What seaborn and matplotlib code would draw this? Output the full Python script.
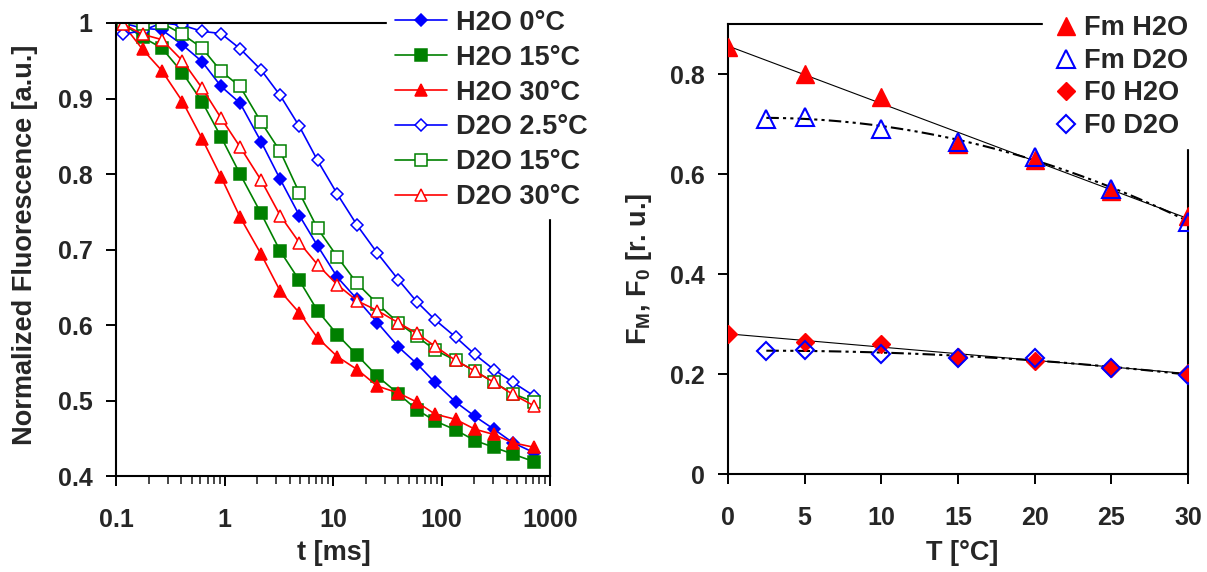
import numpy as np
import matplotlib
matplotlib.use("Agg")
import matplotlib.pyplot as plt
from matplotlib.ticker import FixedLocator, LogLocator, NullFormatter, FuncFormatter
import seaborn as sns

# ---- left panel: fluorescence decay ----
t_ms = [0.115, 0.176, 0.264, 0.41, 0.62, 0.93, 1.39, 2.17, 3.26, 4.9, 7.2,
        11.0, 16.7, 25.7, 40, 59, 87, 135, 203, 304, 456, 712]
h2o_0 = [1.0, 0.993, 0.991, 0.971, 0.949, 0.916, 0.894, 0.843, 0.793, 0.745, 0.705,
         0.663, 0.634, 0.603, 0.571, 0.549, 0.524, 0.498, 0.479, 0.462, 0.444, 0.431]
h2o_15 = [0.999, 0.981, 0.967, 0.934, 0.896, 0.849, 0.800, 0.748, 0.698, 0.659, 0.619,
          0.587, 0.560, 0.532, 0.509, 0.488, 0.473, 0.461, 0.447, 0.438, 0.429, 0.419]
h2o_30 = [0.999, 0.965, 0.937, 0.896, 0.847, 0.796, 0.743, 0.694, 0.645, 0.616, 0.583,
          0.558, 0.541, 0.519, 0.510, 0.498, 0.482, 0.475, 0.462, 0.455, 0.444, 0.438]
d2o_2_5 = [0.985, 0.990, 1.0, 0.997, 0.989, 0.986, 0.966, 0.938, 0.904, 0.863, 0.818,
           0.773, 0.732, 0.695, 0.660, 0.631, 0.607, 0.584, 0.561, 0.541, 0.524, 0.506]
d2o_15 = [1.0, 0.999, 1.0, 0.985, 0.967, 0.936, 0.916, 0.869, 0.830, 0.775, 0.728,
          0.690, 0.655, 0.628, 0.603, 0.585, 0.567, 0.553, 0.539, 0.524, 0.509, 0.498]
d2o_30 = [0.999, 0.985, 0.978, 0.950, 0.914, 0.874, 0.836, 0.792, 0.745, 0.709, 0.680,
          0.653, 0.632, 0.619, 0.603, 0.589, 0.572, 0.553, 0.539, 0.524, 0.508, 0.493]

decay_labels = ["H2O 0°C", "H2O 15°C", "H2O 30°C", "D2O 2.5°C", "D2O 15°C", "D2O 30°C"]
decay_values = [h2o_0, h2o_15, h2o_30, d2o_2_5, d2o_15, d2o_30]

# ---- right panel: Fm and F0 vs temperature ----
temp_h2o = [0, 5, 10, 15, 20, 25, 30]
temp_d2o = [2.5, 5, 10, 15, 20, 25, 30]
fm_h2o = [0.855, 0.801, 0.755, 0.661, 0.629, 0.567, 0.516]
fm_d2o = [0.711, 0.715, 0.691, 0.665, 0.635, 0.571, 0.505]
f0_h2o = [0.281, 0.265, 0.260, 0.235, 0.227, 0.213, 0.203]
f0_d2o = [0.246, 0.249, 0.240, 0.233, 0.233, 0.213, 0.198]

# styles
BLUE, GREEN, RED = "#0000FF", "#008000", "#FF0000"
decay_styles = [
    dict(color=BLUE, marker="D", ms=6.0, mfc=BLUE),
    dict(color=GREEN, marker="s", ms=8.0, mfc=GREEN),
    dict(color=RED, marker="^", ms=8.5, mfc=RED),
    dict(color=BLUE, marker="D", ms=6.0, mfc="white"),
    dict(color=GREEN, marker="s", ms=8.0, mfc="white"),
    dict(color=RED, marker="^", ms=8.5, mfc="white"),
]

sns.set_style("ticks")
plt.rcParams["font.family"] = ["Liberation Sans", "DejaVu Sans"]
plt.rcParams["font.weight"] = "bold"
plt.rcParams["axes.labelweight"] = "bold"
plt.rcParams["mathtext.fontset"] = "custom"
plt.rcParams["mathtext.rm"] = "Liberation Sans:bold"
plt.rcParams["mathtext.it"] = "Liberation Sans:bold"
plt.rcParams["mathtext.bf"] = "Liberation Sans:bold"
plt.rcParams["mathtext.default"] = "rm"

W, H = 1207, 572
fig = plt.figure(figsize=(W / 100, H / 100), dpi=100)
ax1 = fig.add_axes([116 / W, 1 - 476 / H, 434 / W, 453 / H])
ax2 = fig.add_axes([728 / W, 1 - 474 / H, 460 / W, 450 / H])

for lab, vals, st in zip(decay_labels, decay_values, decay_styles):
    sns.lineplot(x=t_ms, y=vals, ax=ax1, label=lab, lw=1.2, mec=st["color"],
                 mew=1.1, **st)

ax1.set_xscale("log")
ax1.set_xlim(0.1, 1000)
ax1.set_ylim(0.4, 1.0)
ax1.xaxis.set_major_locator(FixedLocator([0.1, 1, 10, 100, 1000]))
ax1.xaxis.set_major_formatter(FuncFormatter(lambda v, p: f"{v:g}"))
ax1.xaxis.set_minor_locator(LogLocator(base=10, subs=np.arange(2, 10)))
ax1.xaxis.set_minor_formatter(NullFormatter())
ax1.yaxis.set_major_locator(FixedLocator([0.4, 0.5, 0.6, 0.7, 0.8, 0.9, 1.0]))
ax1.yaxis.set_major_formatter(FuncFormatter(lambda v, p: f"{v:g}"))
ax1.set_xlabel("t [ms]", fontsize=19.5, va="center")
ax1.set_ylabel("Normalized Fluorescence [a.u.]", fontsize=19.5, va="center")
ax1.xaxis.set_label_coords(0.501, -0.17)
ax1.yaxis.set_label_coords(-0.21, 0.51)
ax1.legend(loc="upper left", bbox_to_anchor=(387 / W, 1 - 1.5 / H),
           bbox_transform=fig.transFigure, borderaxespad=0, frameon=True,
           fancybox=False, facecolor="white", edgecolor="white", framealpha=1,
           fontsize=19.5, handlelength=1.93, handletextpad=0.3, borderpad=0.3,
           labelspacing=0.33)

# trend lines
grid_h2o = np.linspace(0, 30, 100)
grid_d2o = np.linspace(2.5, 30, 100)
dashdotdot = (0, (6, 2, 1.5, 2, 1.5, 2))
sns.lineplot(x=grid_h2o, y=np.polyval(np.polyfit(temp_h2o, fm_h2o, 1), grid_h2o),
             ax=ax2, color="black", lw=0.8)
sns.lineplot(x=grid_h2o, y=np.polyval(np.polyfit(temp_h2o, f0_h2o, 1), grid_h2o),
             ax=ax2, color="black", lw=0.8)
sns.lineplot(x=grid_d2o, y=np.polyval(np.polyfit(temp_d2o, fm_d2o, 2), grid_d2o),
             ax=ax2, color="black", lw=1.5, linestyle=dashdotdot)
sns.lineplot(x=grid_d2o, y=np.polyval(np.polyfit(temp_d2o, f0_d2o, 2), grid_d2o),
             ax=ax2, color="black", lw=1.5, linestyle=dashdotdot)

sns.lineplot(x=temp_h2o, y=fm_h2o, ax=ax2, label="Fm H2O", linestyle="none",
             marker="^", ms=12.5, color=RED, mfc=RED, mec=RED, mew=1, zorder=3)
sns.lineplot(x=temp_d2o, y=fm_d2o, ax=ax2, label="Fm D2O", linestyle="none",
             marker="^", ms=12.5, color=BLUE, mfc="none", mec=BLUE, mew=1.5, zorder=3)
sns.lineplot(x=temp_h2o, y=f0_h2o, ax=ax2, label="F0 H2O", linestyle="none",
             marker="D", ms=9, color=RED, mfc=RED, mec=RED, mew=1, zorder=3)
sns.lineplot(x=temp_d2o, y=f0_d2o, ax=ax2, label="F0 D2O", linestyle="none",
             marker="D", ms=9, color=BLUE, mfc="none", mec=BLUE, mew=1.5, zorder=3)

ax2.set_xlim(0, 30)
ax2.set_ylim(0, 0.9)
ax2.xaxis.set_major_locator(FixedLocator([0, 5, 10, 15, 20, 25, 30]))
ax2.yaxis.set_major_locator(FixedLocator([0, 0.2, 0.4, 0.6, 0.8]))
ax2.yaxis.set_major_formatter(FuncFormatter(lambda v, p: f"{v:g}"))
ax2.set_xlabel("T [°C]", fontsize=19.5, va="center")
ax2.set_ylabel(r"F$_{M}$, F$_{0}$ [r. u.]", fontsize=19.5, va="center")
ax2.xaxis.set_label_coords(0.509, -0.1756)
ax2.yaxis.set_label_coords(-0.1935, 0.456)
ax2.legend(loc="upper left", bbox_to_anchor=(1043 / W, 1 - 6 / H),
           bbox_transform=fig.transFigure, borderaxespad=0, frameon=True,
           fancybox=False, facecolor="white", edgecolor="white", framealpha=1,
           fontsize=19.5, handlelength=1.0, handletextpad=0.15, borderpad=0.35,
           labelspacing=0.24)

for ax in (ax1, ax2):
    for sp in ax.spines.values():
        sp.set_visible(True)
        sp.set_linewidth(1.5)
        sp.set_color("black")
    ax.tick_params(axis="both", which="major", direction="out", length=7,
                   width=1.4, labelsize=18, color="black", top=False, right=False)
    ax.tick_params(axis="y", which="major", pad=10)
    ax.tick_params(axis="x", which="major", pad=16)
    ax.tick_params(axis="x", which="minor", direction="out", length=6,
                   width=1.2, top=False)
    ax.grid(False)

fig.savefig("out.png", dpi=100)
